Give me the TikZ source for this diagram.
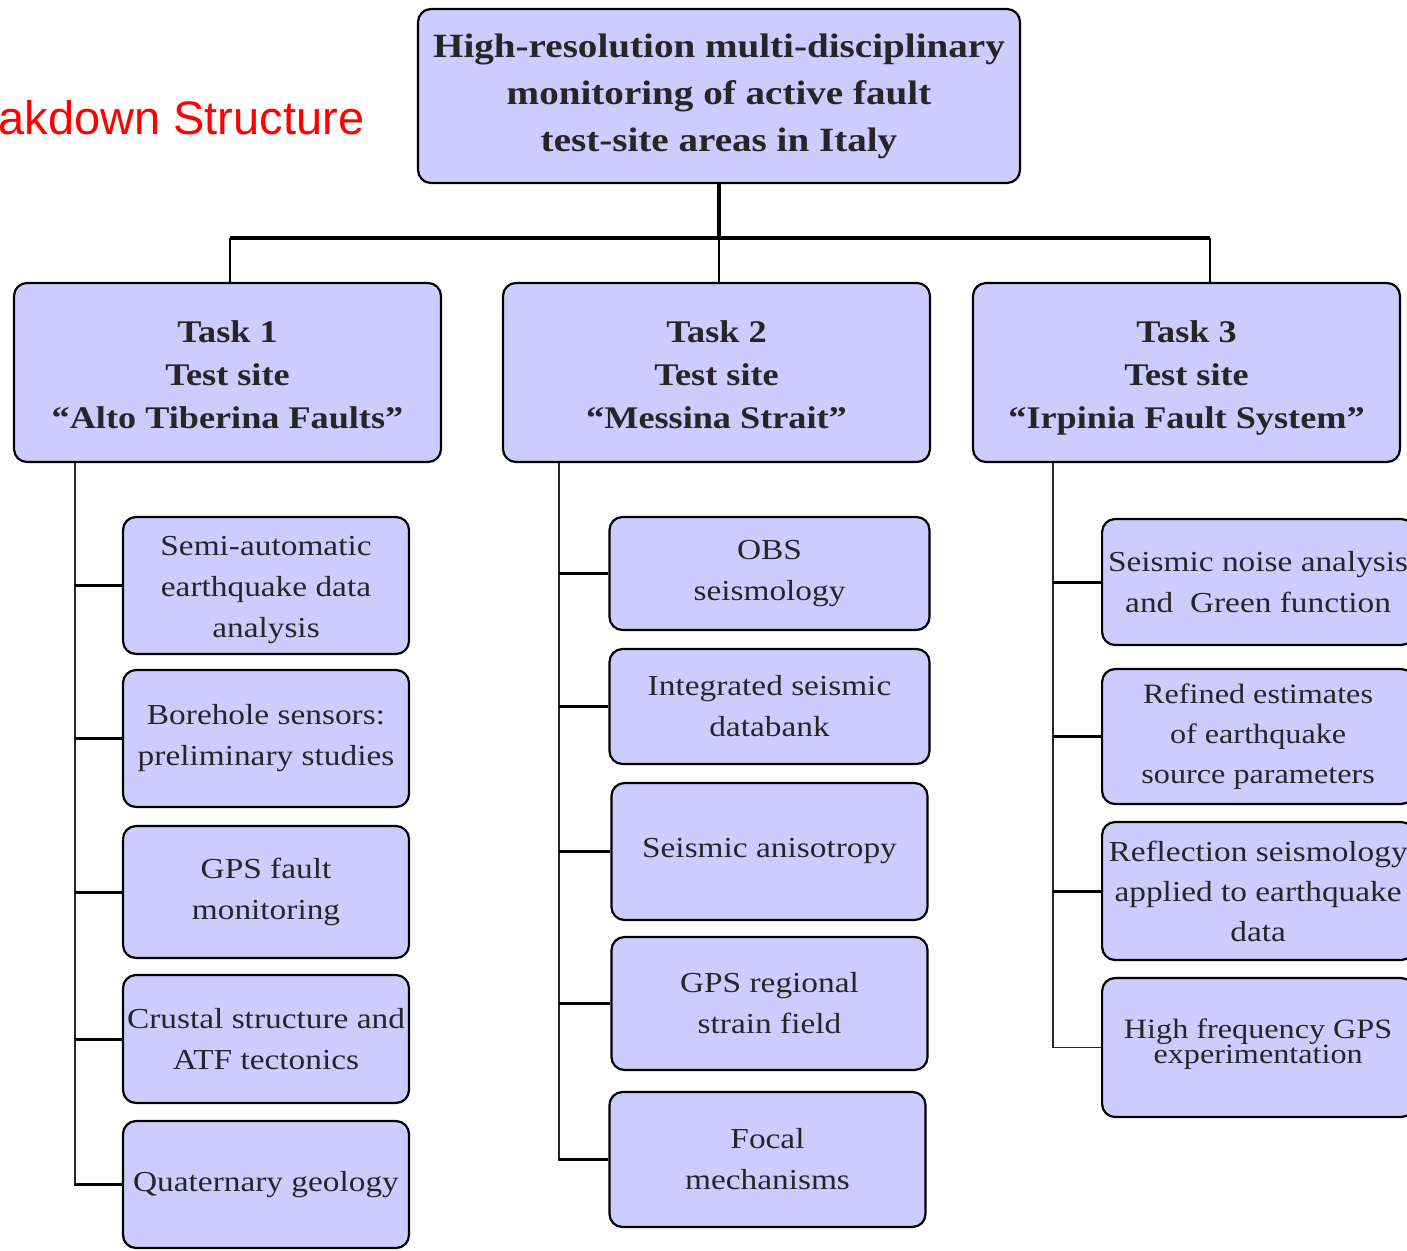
\documentclass[tikz,border=0pt]{standalone}
\usepackage{fontspec}
\setmainfont[FakeStretch=1.15]{Liberation Serif}
\newfontfamily\arialfont{Liberation Sans}
\definecolor{boxfill}{RGB}{204,204,255}
\definecolor{titlered}{RGB}{255,0,0}
\newcommand{\topstrut}[1]{\rule{0pt}{#1}}
\begin{document}
\begin{tikzpicture}[x=1pt,y=-1pt,
  box/.style={draw=black, line width=2.2pt, fill=boxfill, rounded corners=13pt,
    align=center, inner sep=0pt, text=black!85},
  topbox/.style={box, font=\bfseries\fontsize{34}{47}\selectfont},
  taskbox/.style={box, font=\bfseries\fontsize{31.5}{43}\selectfont, minimum width=427pt, minimum height=179pt},
  leafbox/.style={box, font=\fontsize{29}{41}\selectfont},
  rleaf/.style={leafbox, anchor=west, minimum width=312pt},
  bus/.style={line width=3.6pt},
  drop/.style={line width=2.6pt},
  trunk/.style={line width=2.4pt, draw=black!85},
  branch/.style={line width=3pt}]
\clip (0,0) rectangle (1407,1250);
\fill[white] (0,0) rectangle (1407,1250);

\node[anchor=west, text=titlered, font=\arialfont\fontsize{47}{50}\selectfont] (title) at (-5,118) {akdown Structure};

\node[topbox, minimum width=602pt, minimum height=174pt] (top) at (719,96)
  {High-resolution multi-disciplinary\\monitoring of active fault\\test-site areas in Italy};

\node[taskbox] (t1) at (227.5,372.5) {\topstrut{33pt}Task 1\\Test site\\“Alto Tiberina Faults”\vphantom{y}};
\node[taskbox] (t2) at (716.5,372.5) {\topstrut{33pt}Task 2\\Test site\\“Messina Strait”\vphantom{y}};
\node[taskbox] (t3) at (1186.5,372.5) {\topstrut{33pt}Task 3\\Test site\\“Irpinia Fault System”};

% Task 1 leaves
\node[leafbox, minimum width=286pt, minimum height=137pt] (c11) at (266,585.5) {\topstrut{28pt}Semi-automatic\\earthquake data\\analysis};
\node[leafbox, minimum width=286pt, minimum height=137pt] (c12) at (266,738.5) {Borehole sensors:\\preliminary studies};
\node[leafbox, minimum width=286pt, minimum height=132pt] (c13) at (266,892) {GPS fault\\monitoring};
\node[leafbox, minimum width=286pt, minimum height=128pt] (c14) at (266,1039) {Crustal structure and\\ATF tectonics};
\node[leafbox, minimum width=286pt, minimum height=127pt] (c15) at (266,1184.5) {Quaternary geology};

% Task 2 leaves
\node[leafbox, minimum width=320pt, minimum height=113pt] (c21) at (769.5,573.5) {OBS\\seismology};
\node[leafbox, minimum width=320pt, minimum height=115pt] (c22) at (769.5,706.5) {Integrated seismic\\databank};
\node[leafbox, minimum width=316pt, minimum height=137pt] (c23) at (769.5,851.5) {Seismic anisotropy};
\node[leafbox, minimum width=316pt, minimum height=133pt] (c24) at (769.5,1003.5) {GPS regional\\strain field};
\node[leafbox, minimum width=316pt, minimum height=135pt] (c25) at (767.5,1159.5) {Focal\\mechanisms};

% Task 3 leaves
\node[rleaf, minimum height=126pt] (c31) at (1101,582) {Seismic noise analysis\\and~ Green function};
\node[rleaf, minimum height=135pt, font=\fontsize{28}{40}\selectfont] (c32) at (1101,736.5) {Refined estimates\\of earthquake\\source parameters};
\node[rleaf, minimum height=138pt, font=\fontsize{29}{40}\selectfont] (c33) at (1101,891) {Reflection seismology\\applied to earthquake\\data};
\node[rleaf, minimum height=139pt, font=\fontsize{28}{23}\selectfont] (c34) at (1101,1047.5) {High frequency GPS\\experimentation\\[-10pt]\mbox{}};

% top connectors
\coordinate (busL) at (230,238);
\coordinate (busM) at (top.south |- busL);
\coordinate (busR) at (1210,238);
\draw[bus] (top.south) -- (busM);
\draw[bus] (busL) -- (busR);
\draw[drop] (busL) -- (busL |- t1.north);
\draw[drop] (busM) -- (busM |- t2.north);
\draw[drop] (busR) -- (busR |- t3.north);

% trunks
\coordinate (a0) at (75,0);
\coordinate (b0) at (559,0);
\coordinate (d0) at (1053,0);
\draw[trunk] (a0 |- t1.south) -- (a0 |- c15.west) -- (c15.west);
\draw[trunk] (b0 |- t2.south) -- (b0 |- c25.west) -- (c25.west);
\draw[trunk, line width=1.6pt] (d0 |- t3.south) -- (d0 |- c34.west) -- (c34.west);

\foreach \c in {c11,c12,c13,c14,c15} \draw[branch] (a0 |- \c.west) -- (\c.west);
\foreach \c in {c21,c22,c23,c24,c25} \draw[branch] (b0 |- \c.west) -- (\c.west);
\foreach \c in {c31,c32,c33} \draw[branch] (d0 |- \c.west) -- (\c.west);
\end{tikzpicture}
\end{document}
